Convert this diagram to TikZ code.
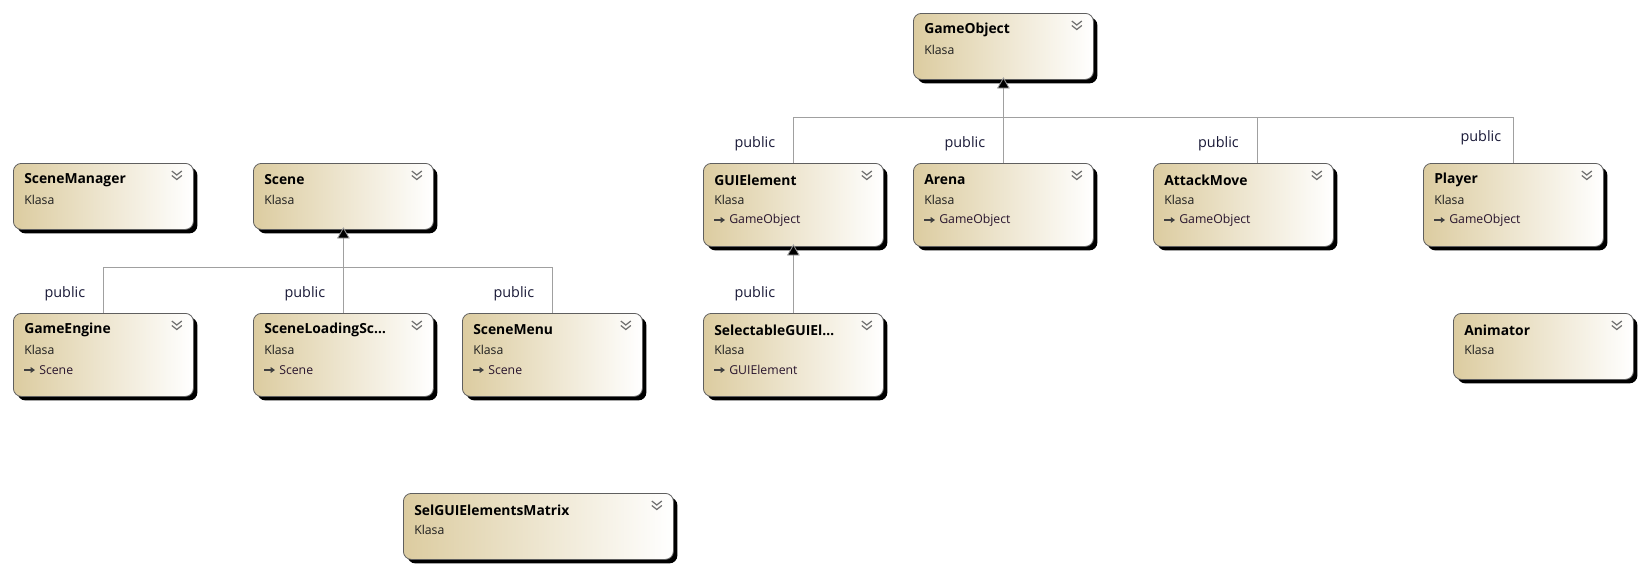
\documentclass[tikz,border=0pt]{standalone}
\usepackage{fontspec}
\setmainfont{Open Sans}
\usetikzlibrary{calc,shadows,arrows.meta}
\definecolor{tanc}{RGB}{220,204,160}
\definecolor{boxline}{RGB}{95,95,95}
\definecolor{connc}{RGB}{160,160,160}
\definecolor{lblc}{RGB}{25,25,55}
\definecolor{subc}{RGB}{30,30,30}
\definecolor{parc}{RGB}{40,20,45}
\definecolor{chevc}{RGB}{110,110,110}
\tikzset{
  cls/.style={draw=boxline, line width=0.6pt, rounded corners=6pt,
    left color=tanc, right color=white, inner sep=0pt,
    general shadow={fill=black, shadow xshift=3pt, shadow yshift=-3pt}},
  ttl/.style={font=\fontsize{10.4}{12}\selectfont\bfseries, inner sep=0pt, text=black},
  subt/.style={font=\fontsize{9.2}{11}\selectfont, inner sep=0pt, text=subc},
  part/.style={font=\fontsize{9.2}{11}\selectfont, inner sep=0pt, text=parc},
  lbl/.style={font=\fontsize{10.8}{12}\selectfont, inner sep=0pt, text=lblc},
  chevst/.style={draw=chevc, line width=0.9pt},
  iconst/.style={draw=black!75, line width=0.9pt, -{Triangle[length=3.2pt,width=4.2pt]}},
  conn/.style={draw=connc, line width=0.75pt},
  inh/.style={conn, -{Triangle[length=8.5pt,width=9.5pt,fill=black,line width=0.6pt]}, shorten >=-2pt}
}
\newcommand\chevmark[1]{%
  \draw[chevst] ($(#1.north east)+(-22,8)$) -- ++(5,4) -- ++(5,-4);
  \draw[chevst] ($(#1.north east)+(-22,12.5)$) -- ++(5,4) -- ++(5,-4);
}
\newcommand\classtwo[5]{%
  \node[cls, minimum width=#4*0.75pt, minimum height=49.5pt, anchor=north west] (#1) at (#2,#3) {};
  \node[ttl, anchor=west] (#1-t) at ($(#1.north west)+(11,17)$) {#5};
  \node[subt, anchor=west] (#1-k) at ($(#1.north west)+(11,37)$) {Klasa};
  \chevmark{#1}
}
\newcommand\classthree[6]{%
  \node[cls, minimum width=#4*0.75pt, minimum height=62.25pt, anchor=north west] (#1) at (#2,#3) {};
  \node[ttl, anchor=west] (#1-t) at ($(#1.north west)+(11,17)$) {#5};
  \node[subt, anchor=west] (#1-k) at ($(#1.north west)+(11,37)$) {Klasa};
  \node[part, anchor=west] (#1-p) at ($(#1.north west)+(26,57)$) {#6};
  \draw[iconst] ($(#1.north west)+(11,57)$) -- ++(11,0);
  \chevmark{#1}
}
\begin{document}
\begin{tikzpicture}[x=0.75pt,y=-0.75pt]
\useasboundingbox (0,0) rectangle (1644,571);
% classes
\classtwo{scenemgr}{13}{163}{180}{SceneManager}
\classtwo{scene}{253}{163}{180}{Scene}
\classthree{gameengine}{13}{313}{180}{GameEngine}{Scene}
\classthree{sceneload}{253}{313}{180}{SceneLoadingSc…}{Scene}
\classthree{scenemenu}{462}{313}{180}{SceneMenu}{Scene}
\classtwo{selmatrix}{403}{493}{270}{SelGUIElementsMatrix}
\classtwo{gameobject}{913}{13}{180}{GameObject}
\classthree{guielement}{703}{163}{180}{GUIElement}{GameObject}
\classthree{arena}{913}{163}{180}{Arena}{GameObject}
\classthree{attackmove}{1153}{163}{180}{AttackMove}{GameObject}
\classthree{player}{1423}{163}{180}{Player}{GameObject}
\classthree{selectable}{703}{313}{180}{SelectableGUIEl…}{GUIElement}
\classtwo{animator}{1453}{313}{180}{Animator}
% scene inheritance
\coordinate (sbus) at (343,267);
\draw[conn] (gameengine.north) -- (gameengine.north |- sbus) -- (scenemenu.north |- sbus) -- (scenemenu.north);
\draw[inh] (sceneload.north) -- (scene.south);
\node[lbl, anchor=east] (l1) at ($(gameengine.north)+(-18,-19)$) {public};
\node[lbl, anchor=east] (l2) at ($(sceneload.north)+(-18,-19)$) {public};
\node[lbl, anchor=east] (l3) at ($(scenemenu.north)+(-18,-19)$) {public};
% gameobject inheritance
\coordinate (gbus) at (1003,117);
\coordinate (amx) at (1257,117);
\draw[conn] (guielement.north) -- (guielement.north |- gbus) -- (player.north |- gbus) -- (player.north);
\draw[conn] (amx) -- (amx |- attackmove.north);
\draw[inh] (arena.north) -- (gameobject.south);
\node[lbl, anchor=east] (l4) at ($(guielement.north)+(-18,-19)$) {public};
\node[lbl, anchor=east] (l5) at ($(arena.north)+(-18,-19)$) {public};
\node[lbl, anchor=east] (l6) at ($(amx |- attackmove.north)+(-18,-19)$) {public};
\node[lbl, anchor=east] (l7) at ($(player.north)+(-12,-25)$) {public};
% gui inheritance
\draw[inh] (selectable.north) -- (guielement.south);
\node[lbl, anchor=east] (l8) at ($(selectable.north)+(-18,-19)$) {public};
\end{tikzpicture}
\end{document}
